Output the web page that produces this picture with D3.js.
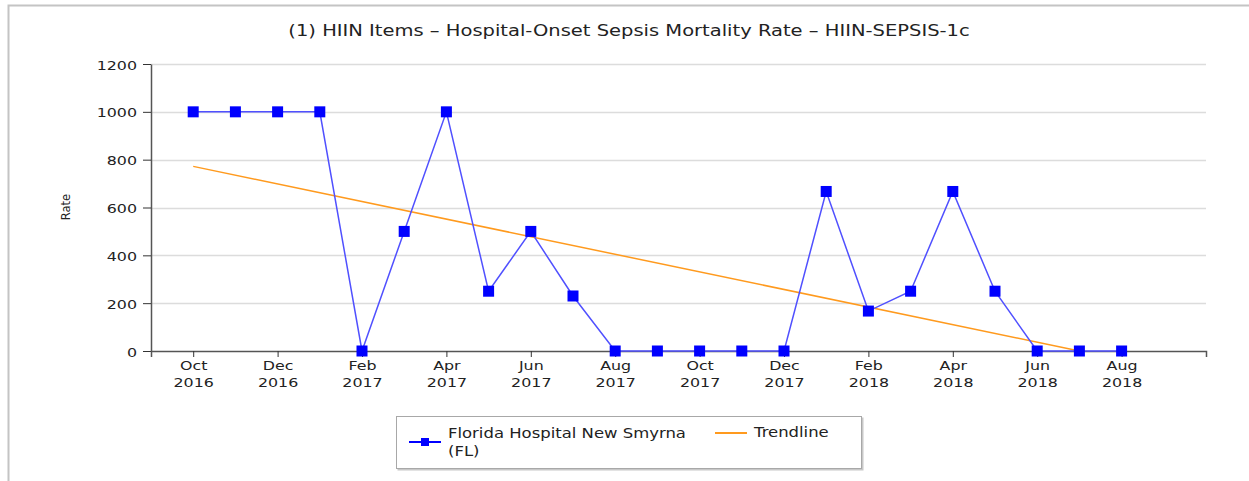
<!DOCTYPE html>
<html>
<head>
<meta charset="utf-8">
<script src="https://cdn.jsdelivr.net/npm/d3@7"></script>
<style>
  body { margin: 0; background: #fff; }
  text { font-family: "DejaVu Sans", Verdana, sans-serif; }
</style>
</head>
<body>
<div id="chart"></div>
<script>
// HIIN sepsis mortality chart

///////////////
// data      //
///////////////

const chartTitle = "(1) HIIN Items \u2013 Hospital-Onset Sepsis Mortality Rate \u2013 HIIN-SEPSIS-1c";
const seriesName = ["Florida Hospital New Smyrna", "(FL)"];
const trendName = "Trendline";
const yLabel = "Rate";

// one point per month, Oct 2016 .. Aug 2018
const months = ["2016-10", "2016-11", "2016-12", "2017-01", "2017-02", "2017-03", "2017-04",
	"2017-05", "2017-06", "2017-07", "2017-08", "2017-09", "2017-10", "2017-11", "2017-12",
	"2018-01", "2018-02", "2018-03", "2018-04", "2018-05", "2018-06", "2018-07", "2018-08"];
const rates = [1000, 1000, 1000, 1000, 0, 500, 1000, 250, 500, 230, 0, 0, 0, 0, 0,
	667, 167, 250, 667, 250, 0, 0, 0];

// trendline end points
const trendMonths = ["2016-10", "2018-07"];
const trendValues = [772, 0];

const yTicks = [0, 200, 400, 600, 800, 1000, 1200];

///////////////
// layout    //
///////////////

const chartWidth = 1249;
const chartHeight = 481;
const plotLeft = 151, plotRight = 1206, plotTop = 64, plotBottom = 351;

// the source screenshot is stretched sideways, so text is too
const stretch = 1.22;

const parseMonth = d3.timeParse("%Y-%m");

var svg = d3.select("#chart").append("svg")
	.attr("width", chartWidth)
	.attr("height", chartHeight);

svg.append("rect")
	.attr("width", "100%")
	.attr("height", "100%")
	.attr("fill", "#ffffff");

// slide frame
svg.append("path")
	.attr("d", "M8.5,481 L8.5,5.5 L1249,5.5")
	.attr("fill", "none")
	.attr("stroke", "#c4c4c4")
	.attr("stroke-width", 2);

// months are evenly spaced: one slot before the first, two after the last
var xScale = d3.scaleLinear()
	.domain([-1, months.length + 1])
	.range([plotLeft, plotRight]);

var yScale = d3.scaleLinear()
	.domain([0, 1200])
	.range([plotBottom, plotTop]);

function wideText(parent, x, y, str, size, anchor) {
	return parent.append("text")
		.attr("transform", "translate(" + x + "," + y + ") scale(" + stretch + ",1)")
		.attr("text-anchor", anchor || "start")
		.attr("font-size", size)
		.attr("fill", "#222")
		.text(str);
}

// title
wideText(svg, 629, 36, chartTitle, 16, "middle");

// grid
svg.append("g")
	.selectAll("line")
	.data(yTicks.filter(d => d > 0))
	.join("line")
	.attr("x1", plotLeft)
	.attr("x2", plotRight)
	.attr("y1", d => Math.round(yScale(d)) + 0.5)
	.attr("y2", d => Math.round(yScale(d)) + 0.5)
	.attr("stroke", "#dcdcdc")
	.attr("stroke-width", 1.5);

// y axis
var yAxis = svg.append("g")
	.attr("transform", "translate(" + plotLeft + ",0)")
	.call(d3.axisLeft(yScale).tickValues(yTicks).tickSize(8).tickSizeOuter(0).tickFormat(""));

// x axis, a tick every second month
var tickIndex = months.map((m, i) => i).filter(i => i % 2 === 0);
var xAxis = svg.append("g")
	.attr("transform", "translate(0," + plotBottom + ")")
	.call(d3.axisBottom(xScale).tickValues(tickIndex).tickSize(6).tickSizeOuter(6).tickFormat(""));

[yAxis, xAxis].forEach(function(ax) {
	ax.select(".domain").attr("stroke", "#555").attr("stroke-width", 1.5);
	ax.selectAll(".tick line").attr("stroke", "#333");
});

yAxis.selectAll(".tick").each(function(d) {
	wideText(d3.select(this), -14, 5, d3.format("d")(d), 13, "end");
});

// two-line month labels
xAxis.selectAll(".tick").each(function(i) {
	var g = d3.select(this);
	var date = parseMonth(months[i]);
	wideText(g, 0, 19, d3.timeFormat("%b")(date), 13, "middle");
	wideText(g, 0, 36, d3.timeFormat("%Y")(date), 13, "middle");
});

// axis title
svg.append("text")
	.attr("transform", "translate(70,207) rotate(-90)")
	.attr("text-anchor", "middle")
	.attr("font-size", 11.5)
	.attr("fill", "#222")
	.text(yLabel);

// trendline
const lineGenerator = d3.line()
	.x(d => xScale(d[0]))
	.y(d => yScale(d[1]));

svg.append("path")
	.attr("d", lineGenerator(trendMonths.map((m, i) => [months.indexOf(m), trendValues[i]])))
	.attr("fill", "none")
	.attr("stroke", "#ff9a1e")
	.attr("stroke-width", 1.5);

// series
var points = rates.map((v, i) => [i, v]);
svg.append("path")
	.attr("d", lineGenerator(points))
	.attr("fill", "none")
	.attr("stroke", "#5050ff")
	.attr("stroke-width", 1.5);

const markerSize = 11;
svg.append("g")
	.selectAll("rect")
	.data(points)
	.join("rect")
	.attr("x", d => xScale(d[0]) - markerSize / 2)
	.attr("y", d => yScale(d[1]) - markerSize / 2)
	.attr("width", markerSize)
	.attr("height", markerSize)
	.attr("fill", "#0000ff");

// legend
var legend = svg.append("g").attr("transform", "translate(396,416)");
legend.append("rect")
	.attr("x", 1.5).attr("y", 1.5)
	.attr("width", 466).attr("height", 53)
	.attr("fill", "#c8c8c8");
legend.append("rect")
	.attr("x", 0.5).attr("y", 0.5)
	.attr("width", 465).attr("height", 52)
	.attr("fill", "#fff")
	.attr("stroke", "#a8a8a8");

legend.append("line")
	.attr("x1", 13).attr("x2", 45).attr("y1", 26).attr("y2", 26)
	.attr("stroke", "#0000ff").attr("stroke-width", 2);
legend.append("rect")
	.attr("x", 25).attr("y", 22).attr("width", 8).attr("height", 8)
	.attr("fill", "#0000ff");
wideText(legend, 52, 22, seriesName[0], 13.5);
wideText(legend, 52, 40, seriesName[1], 13.5);

legend.append("line")
	.attr("x1", 319).attr("x2", 351).attr("y1", 17).attr("y2", 17)
	.attr("stroke", "#ff9a1e").attr("stroke-width", 2);
wideText(legend, 358, 21, trendName, 13.5);
</script>
</body>
</html>
